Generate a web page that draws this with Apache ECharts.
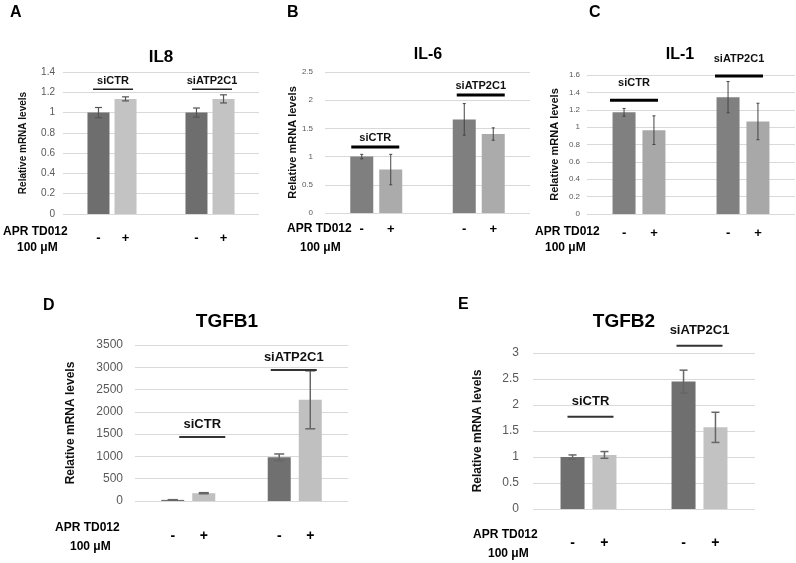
<!DOCTYPE html>
<html><head><meta charset="utf-8">
<script src="https://cdn.jsdelivr.net/npm/echarts@6/dist/echarts.min.js"></script>
<style>html,body{margin:0;padding:0;background:#fff}#c{width:796px;height:563px}</style>
</head><body><div id="c"></div>
<script>
// ---------- data ----------
const groups = ['siCTR', 'siATP2C1'];
const treatment = ['-', '+'];

const il8Minus = [1.00, 1.00];
const il8MinusErr = [0.05, 0.045];
const il8Plus = [1.135, 1.135];
const il8PlusErr = [0.02, 0.04];
const il8Ticks = [0, 0.2, 0.4, 0.6, 0.8, 1, 1.2, 1.4];

const il6Minus = [1.00, 1.66];
const il6MinusErr = [0.04, 0.28];
const il6Plus = [0.77, 1.40];
const il6PlusErr = [0.27, 0.11];
const il6Ticks = [0, 0.5, 1, 1.5, 2, 2.5];

const il1Minus = [1.17, 1.345];
const il1MinusErr = [0.045, 0.18];
const il1Plus = [0.965, 1.065];
const il1PlusErr = [0.165, 0.21];
const il1Ticks = [0, 0.2, 0.4, 0.6, 0.8, 1, 1.2, 1.4, 1.6];

const tgfb1Minus = [25, 980];
const tgfb1MinusErr = [5, 75];
const tgfb1Plus = [175, 2270];
const tgfb1PlusErr = [12, 650];
const tgfb1Ticks = [0, 500, 1000, 1500, 2000, 2500, 3000, 3500];

const tgfb2Minus = [1.00, 2.45];
const tgfb2MinusErr = [0.04, 0.22];
const tgfb2Plus = [1.04, 1.57];
const tgfb2PlusErr = [0.065, 0.29];
const tgfb2Ticks = [0, 0.5, 1, 1.5, 2, 2.5, 3];

// ---------- layout / style per panel ----------
const FONT = 'Liberation Sans, Arial, sans-serif';
const NARROW = 'Liberation Sans Narrow, Liberation Sans, Arial, sans-serif';
const panels = [
  { letter: 'A', letterPos: [10, 13], title: 'IL8', titlePos: [161, 57], titleSize: 17,
    minus: il8Minus, minusErr: il8MinusErr, plus: il8Plus, plusErr: il8PlusErr, ticks: il8Ticks,
    grid: { left: 63, top: 72, width: 196, height: 142 },
    bw: 22, gap: 0.23, dark: '#6e6e6e', light: '#c3c3c3',
    tickFont: FONT, tickSize: 10, tickMargin: 8, nameSize: 10, nameGap: 35,
    errColor: '#555', errWidth: 1.2, cap: 3.5,
    ann: [[0, 1.23], [1, 1.23]], annHalf: 20, annDx: [1, 2], annWidth: 1.5, annColor: '#222', annLabelSize: 11, annLabelGap: 8,
    pmDy: 18, pmSize: 13,
    apr: [3, 232], um: [17, 248], aprSize: 12 },
  { letter: 'B', letterPos: [287, 13], title: 'IL-6', titlePos: [428, 55], titleSize: 16,
    minus: il6Minus, minusErr: il6MinusErr, plus: il6Plus, plusErr: il6PlusErr, ticks: il6Ticks,
    grid: { left: 325, top: 72, width: 205, height: 141 },
    bw: 23, gap: 0.26, dark: '#7f7f7f', light: '#ababab',
    tickFont: NARROW, tickSize: 8, tickMargin: 12, nameSize: 11, nameGap: 27,
    errColor: '#444', errWidth: 1, cap: 1.5,
    ann: [[0, 1.17], [1, 2.09]], annHalf: 24, annDx: [-1, 2], annWidth: 3, annColor: '#000', annLabelSize: 11, annLabelGap: 9,
    pmDy: 10, pmSize: 13,
    apr: [287, 229], um: [300, 248], aprSize: 12 },
  { letter: 'C', letterPos: [589, 13], title: 'IL-1', titlePos: [680, 55], titleSize: 16,
    minus: il1Minus, minusErr: il1MinusErr, plus: il1Plus, plusErr: il1PlusErr, ticks: il1Ticks,
    grid: { left: 587, top: 75, width: 208, height: 139 },
    bw: 23, gap: 0.30, dark: '#808080', light: '#a8a8a8',
    tickFont: NARROW, tickSize: 8, tickMargin: 7, nameSize: 11, nameGap: 27,
    errColor: '#444', errWidth: 1, cap: 1.5,
    ann: [[0, 1.31], [1, 1.588]], annHalf: 24, annDx: [-5, -4], annWidth: 3, annColor: '#000', annLabelSize: 11, annLabelGap: 17,
    pmDy: 13, pmSize: 13,
    apr: [535, 232], um: [545, 248], aprSize: 12 },
  { letter: 'D', letterPos: [43, 306], title: 'TGFB1', titlePos: [227, 322], titleSize: 19,
    minus: tgfb1Minus, minusErr: tgfb1MinusErr, plus: tgfb1Plus, plusErr: tgfb1PlusErr, ticks: tgfb1Ticks,
    grid: { left: 135, top: 345, width: 213, height: 156 },
    bw: 23, gap: 0.35, dark: '#707070', light: '#c0c0c0',
    tickFont: FONT, tickSize: 12, tickMargin: 12, nameSize: 12, nameGap: 58,
    errColor: '#666', errWidth: 1.5, cap: 5,
    ann: [[0, 1436], [1, 2939]], annHalf: 23, annDx: [14, -1], annWidth: 2, annColor: '#333', annLabelSize: 13, annLabelGap: 13,
    pmDy: 28, pmSize: 14,
    apr: [55, 528], um: [70, 547], aprSize: 12 },
  { letter: 'E', letterPos: [458, 305], title: 'TGFB2', titlePos: [624, 322], titleSize: 19,
    minus: tgfb2Minus, minusErr: tgfb2MinusErr, plus: tgfb2Plus, plusErr: tgfb2PlusErr, ticks: tgfb2Ticks,
    grid: { left: 533, top: 353, width: 222, height: 156 },
    bw: 24, gap: 0.33, dark: '#6f6f6f', light: '#c2c2c2',
    tickFont: FONT, tickSize: 12, tickMargin: 14, nameSize: 12, nameGap: 49,
    errColor: '#666', errWidth: 1.5, cap: 4,
    ann: [[0, 1.775], [1, 3.14]], annHalf: 23, annDx: [2, 0], annWidth: 2, annColor: '#333', annLabelSize: 13, annLabelGap: 15,
    pmDy: 27, pmSize: 14,
    apr: [473, 535], um: [488, 554], aprSize: 12 }
];

const grid = [], xAxis = [], yAxis = [], series = [], graphic = [];

function errRenderer(p, sign) {
  const off = sign * p.bw * (1 + p.gap) / 2;
  return function (params, api) {
    const c = api.value(0), v = api.value(1), e = api.value(2);
    const top = api.coord([c, v + e]);
    const bot = api.coord([c, v - e]);
    const x = top[0] + off;
    const st = { stroke: p.errColor, lineWidth: p.errWidth };
    return { type: 'group', children: [
      { type: 'line', shape: { x1: x, y1: top[1], x2: x, y2: bot[1] }, style: st },
      { type: 'line', shape: { x1: x - p.cap, y1: top[1], x2: x + p.cap, y2: top[1] }, style: st },
      { type: 'line', shape: { x1: x - p.cap, y1: bot[1], x2: x + p.cap, y2: bot[1] }, style: st }
    ] };
  };
}

function annRenderer(p) {
  return function (params, api) {
    const c = api.value(0), v = api.value(1);
    const pt = api.coord([c, v]);
    const x = pt[0] + p.annDx[params.dataIndex];
    return { type: 'group', children: [
      { type: 'line', shape: { x1: x - p.annHalf, y1: pt[1], x2: x + p.annHalf, y2: pt[1] },
        style: { stroke: p.annColor, lineWidth: p.annWidth } },
      { type: 'text', x: x, y: pt[1] - p.annLabelGap,
        style: { text: groups[c], fill: '#111', font: 'bold ' + p.annLabelSize + 'px ' + FONT,
                 align: 'center', verticalAlign: 'middle', textAlign: 'center', textVerticalAlign: 'middle' } }
    ] };
  };
}

panels.forEach((p, i) => {
  grid.push(Object.assign({ containLabel: false }, p.grid));
  xAxis.push({ gridIndex: i, type: 'category', data: groups,
    axisLine: { show: false }, axisTick: { show: false }, axisLabel: { show: false } });
  const t = p.ticks;
  yAxis.push({ gridIndex: i, type: 'value', min: t[0], max: t[t.length - 1], interval: t[1] - t[0],
    axisLine: { show: false }, axisTick: { show: false },
    splitLine: { lineStyle: { color: '#d9d9d9', width: 1 } },
    axisLabel: { color: '#595959', fontSize: p.tickSize, fontFamily: p.tickFont, margin: p.tickMargin,
      formatter: (v) => String(+v.toFixed(4)) },
    name: 'Relative mRNA levels', nameLocation: 'middle', nameGap: p.nameGap,
    nameTextStyle: { fontWeight: 'bold', fontSize: p.nameSize, color: '#111', fontFamily: FONT } });

  const lab = (txt) => ({ show: true, position: 'bottom', distance: p.pmDy, formatter: txt,
    color: '#000', fontWeight: 'bold', fontSize: p.pmSize, fontFamily: FONT });
  series.push({ type: 'bar', xAxisIndex: i, yAxisIndex: i, data: p.minus, barWidth: p.bw,
    barGap: Math.round(p.gap * 100) + '%', itemStyle: { color: p.dark }, label: lab(treatment[0]),
    silent: true, animation: false });
  series.push({ type: 'bar', xAxisIndex: i, yAxisIndex: i, data: p.plus, barWidth: p.bw,
    barGap: Math.round(p.gap * 100) + '%', itemStyle: { color: p.light }, label: lab(treatment[1]),
    silent: true, animation: false });
  series.push({ type: 'custom', xAxisIndex: i, yAxisIndex: i, z: 5, silent: true, animation: false,
    renderItem: errRenderer(p, -1), data: p.minus.map((v, k) => [k, v, p.minusErr[k]]) });
  series.push({ type: 'custom', xAxisIndex: i, yAxisIndex: i, z: 5, silent: true, animation: false,
    renderItem: errRenderer(p, 1), data: p.plus.map((v, k) => [k, v, p.plusErr[k]]) });
  series.push({ type: 'custom', xAxisIndex: i, yAxisIndex: i, z: 5, silent: true, animation: false, clip: false,
    renderItem: annRenderer(p), data: p.ann });

  const txt = (s, x, y, font, align) => ({ type: 'text', x: x, y: y, silent: true,
    style: { text: s, font: font, fill: '#000', align: align || 'left', verticalAlign: 'middle',
             textAlign: align || 'left', textVerticalAlign: 'middle' } });
  graphic.push(txt(p.letter, p.letterPos[0], p.letterPos[1], 'bold 16px ' + FONT));
  graphic.push(txt(p.title, p.titlePos[0], p.titlePos[1], 'bold ' + p.titleSize + 'px ' + FONT, 'center'));
  graphic.push(txt('APR TD012', p.apr[0], p.apr[1], 'bold ' + p.aprSize + 'px ' + FONT));
  graphic.push(txt('100 \u03bcM', p.um[0], p.um[1], 'bold ' + p.aprSize + 'px ' + FONT));
});

const chart = echarts.init(document.getElementById('c'), null, { renderer: 'canvas' });
chart.setOption({ backgroundColor: '#fff', animation: false, grid, xAxis, yAxis, series, graphic });
</script>
</body></html>
